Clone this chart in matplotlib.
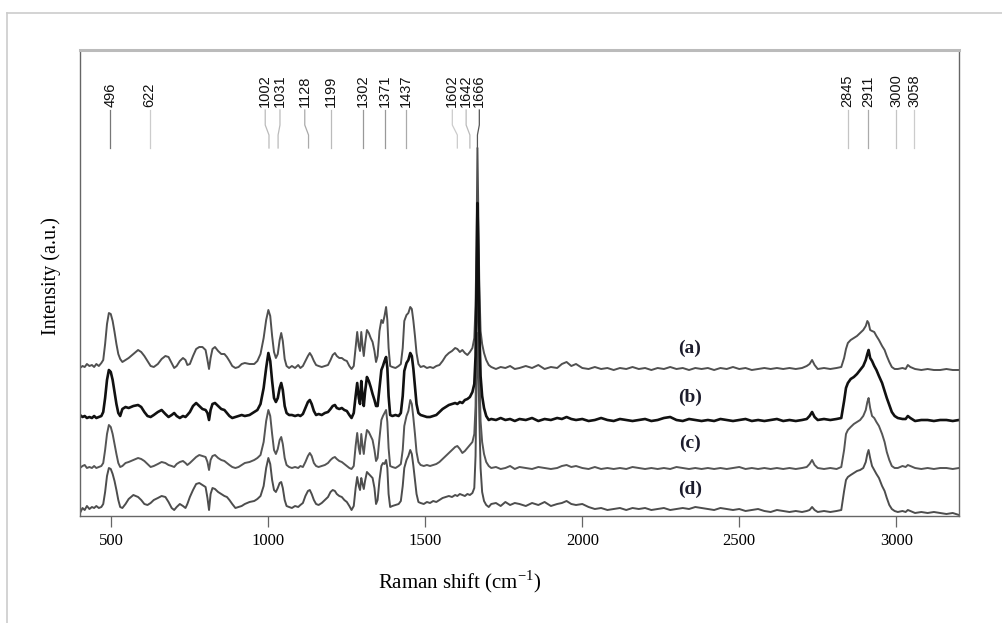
import matplotlib.pyplot as plt
from matplotlib.lines import Line2D

plt.rcParams['mathtext.fontset'] = 'custom'
plt.rcParams['mathtext.rm'] = 'Liberation Serif'

# Raman shift grid (cm-1) shared by the four spectra
raman_shift = [
    400, 408, 415, 422, 430, 438, 445, 452, 460, 468,
    474, 480, 486, 492, 498, 504, 510, 516, 522, 528,
    535, 545, 555, 570, 585, 595, 605, 615, 625, 635,
    648, 660, 672, 682, 692, 700, 708, 718, 728, 736,
    742, 750, 760, 770, 780, 790, 800, 806, 811, 816,
    822, 830, 840, 850, 860, 868, 876, 885, 895, 905,
    915, 925, 940, 955, 965, 975, 985, 993, 1000, 1006,
    1012, 1018, 1024, 1030, 1036, 1041, 1046, 1052, 1058, 1066,
    1075, 1085, 1095, 1102, 1110, 1118, 1126, 1132, 1138, 1145,
    1152, 1160, 1170, 1180, 1190, 1198, 1205, 1212, 1218, 1226,
    1234, 1242, 1250, 1258, 1265, 1272, 1278, 1283, 1288, 1292,
    1296, 1300, 1304, 1308, 1314, 1320, 1326, 1332, 1338, 1343,
    1348, 1354, 1360, 1365, 1370, 1375, 1379, 1383, 1388, 1395,
    1405, 1415, 1422, 1428, 1433, 1440, 1446, 1452, 1457, 1462,
    1467, 1472, 1478, 1485, 1495, 1505, 1515, 1525, 1535, 1545,
    1555, 1565, 1575, 1585, 1595, 1602, 1610, 1618, 1626, 1634,
    1642, 1650, 1656, 1660, 1663, 1666, 1669, 1672, 1676, 1681,
    1687, 1694, 1702, 1710, 1725, 1740, 1755, 1770, 1785, 1800,
    1820, 1840, 1860, 1880, 1900, 1920, 1935, 1950, 1965, 1980,
    2000, 2020, 2040, 2060, 2080, 2100, 2120, 2140, 2160, 2180,
    2200, 2220, 2240, 2260, 2280, 2300, 2320, 2340, 2360, 2380,
    2400, 2420, 2440, 2460, 2480, 2500, 2520, 2540, 2560, 2580,
    2600, 2620, 2640, 2660, 2680, 2700, 2715, 2724, 2732, 2740,
    2750, 2770, 2790, 2810, 2825, 2834, 2840, 2846, 2855, 2865,
    2875, 2885, 2895, 2903, 2908, 2912, 2917, 2923, 2930, 2937,
    2945, 2955, 2963, 2970, 2978, 2986, 2995, 3005, 3020, 3030,
    3037, 3045, 3060, 3080, 3100, 3120, 3140, 3160, 3180, 3200,
]

# stacked intensities (a.u.), top to bottom
spec_a = [
    148, 150, 149, 152, 150, 151, 149, 152, 150, 153,
    156, 172, 192, 203, 202, 195, 184, 172, 162, 157,
    154, 156, 158, 162, 166, 164, 160, 155, 150, 149,
    152, 157, 160, 159, 153, 148, 150, 155, 158, 156,
    151, 152, 160, 167, 169, 169, 166, 156, 147, 158,
    167, 169, 165, 162, 162, 159, 155, 150, 148, 149,
    152, 153, 152, 152, 155, 162, 178, 196, 206, 200,
    180, 164, 158, 162, 176, 183, 175, 157, 150, 148,
    150, 148, 151, 148, 150, 155, 160, 163, 160, 155,
    151, 150, 149, 150, 151, 156, 161, 163, 160, 158,
    158, 156, 155, 150, 147, 150, 168, 184, 170, 165,
    184, 170, 160, 172, 186, 183, 178, 174, 165, 154,
    160, 185, 196, 193, 200, 209, 196, 168, 150, 149,
    148, 150, 152, 168, 195, 201, 203, 209, 207, 195,
    180, 163, 152, 149, 150, 148, 149, 148, 150, 151,
    155, 160, 163, 165, 168, 167, 164, 166, 163, 161,
    164, 168, 178, 210, 270, 368, 300, 230, 185, 172,
    163, 156, 151, 149, 147, 149, 148, 150, 147, 148,
    150, 148, 151, 147, 149, 148, 152, 154, 150, 152,
    148, 147, 149, 147, 148, 146, 148, 147, 149, 147,
    148, 146, 148, 147, 149, 147, 148, 146, 148, 147,
    148, 146, 148, 147, 149, 147, 148, 146, 147, 148,
    147, 148, 147, 148, 147, 148, 150, 152, 156, 151,
    147, 148, 147, 148, 149, 158, 167, 173, 176, 178,
    180, 183, 186, 190, 195, 193, 186, 185, 184, 180,
    176, 170, 166, 160, 154, 149, 147, 147, 148, 147,
    151, 149, 147, 146, 147, 146, 146, 147, 146, 146,
]
spec_b = [
    101, 99, 100, 98, 99, 98, 100, 98, 99, 100,
    104, 118, 136, 146, 144, 136, 124, 112, 103, 100,
    107, 109, 108, 110, 111, 109, 104, 100, 99, 101,
    104, 106, 102, 99, 101, 103, 100, 98, 100, 99,
    101, 104, 110, 113, 110, 107, 106, 103, 96, 106,
    112, 113, 110, 107, 106, 103, 100, 98, 99, 100,
    101, 100, 101, 104, 106, 112, 128, 148, 163, 155,
    135, 118, 114, 118, 128, 133, 126, 110, 103, 101,
    101, 100, 101, 100, 102, 108, 114, 116, 112, 105,
    101, 102, 101, 103, 104, 107, 110, 111, 108, 107,
    108, 106, 105, 101, 98, 103, 120, 133, 118, 112,
    135, 120, 110, 124, 139, 135, 129, 122, 116, 110,
    110, 128, 146, 150, 155, 159, 148, 120, 101, 100,
    101, 100, 103, 120, 145, 153, 156, 163, 160, 147,
    130, 112, 103, 101, 100, 99, 99, 100, 101, 104,
    107, 109, 111, 112, 113, 112, 114, 113, 116, 117,
    119, 124, 132, 160, 230, 313, 260, 190, 140, 120,
    108, 100, 96, 97, 96, 98, 96, 97, 95, 97,
    96, 98, 95, 97, 96, 98, 97, 99, 97, 96,
    97, 95, 96, 98, 96, 95, 97, 96, 95, 96,
    97, 95, 96, 98, 99, 96, 95, 97, 96, 95,
    96, 95, 97, 96, 95, 96, 97, 95, 96, 95,
    96, 97, 95, 96, 95, 96, 97, 100, 104, 99,
    96, 97, 96, 97, 98, 115, 128, 133, 137, 139,
    142, 146, 150, 156, 162, 166, 158, 155, 150, 146,
    140, 133, 125, 118, 111, 104, 100, 98, 97, 97,
    100, 98, 95, 96, 96, 95, 96, 96, 95, 96,
]
spec_c = [
    48, 50, 51, 48, 49, 48, 50, 48, 49, 50,
    53, 66, 82, 91, 89, 82, 72, 62, 53, 49,
    50, 53, 54, 56, 58, 57, 55, 52, 49, 50,
    52, 54, 53, 51, 50, 49, 52, 54, 55, 53,
    51, 53, 56, 59, 61, 60, 59, 54, 46, 56,
    60, 61, 58, 56, 55, 53, 51, 49, 48, 49,
    51, 53, 54, 56, 58, 61, 74, 95, 106, 100,
    82, 66, 62, 67, 76, 79, 72, 58, 51, 49,
    48, 49, 48, 50, 49, 54, 60, 63, 60, 53,
    50, 49, 50, 51, 53, 56, 58, 59, 57, 55,
    54, 52, 50, 48, 47, 50, 70, 83, 68, 62,
    82, 70, 62, 74, 86, 84, 80, 76, 66, 55,
    58, 78, 96, 100, 103, 106, 94, 68, 50, 49,
    48, 50, 52, 66, 90, 100, 105, 116, 112, 98,
    82, 64, 54, 51, 50, 51, 50, 51, 52, 54,
    57, 60, 63, 66, 69, 70, 67, 63, 65, 68,
    71, 74, 82, 110, 180, 251, 210, 150, 95, 74,
    62, 54, 50, 48, 49, 47, 48, 50, 47, 49,
    48, 47, 49, 48, 47, 48, 50, 51, 49, 50,
    48, 47, 49, 47, 48, 47, 48, 47, 49, 48,
    47, 48, 47, 48, 47, 49, 48, 47, 48, 47,
    48, 47, 48, 47, 48, 49, 47, 48, 47, 48,
    47, 48, 47, 48, 47, 48, 49, 52, 56, 51,
    48, 47, 48, 47, 49, 66, 82, 86, 89, 92,
    94, 96, 100, 106, 114, 118, 108, 100, 98, 94,
    90, 82, 74, 64, 56, 50, 48, 48, 50, 49,
    51, 50, 48, 47, 48, 47, 48, 48, 47, 48,
]
spec_d = [
    3, 8, 6, 10, 7, 9, 8, 10, 8, 9,
    12, 24, 40, 48, 47, 42, 35, 26, 16, 9,
    8, 12, 17, 21, 19, 16, 12, 11, 13, 16,
    18, 20, 19, 14, 8, 6, 9, 12, 10, 8,
    12, 19, 26, 32, 33, 31, 29, 18, 6, 22,
    28, 27, 24, 22, 20, 19, 16, 12, 8, 9,
    10, 12, 14, 15, 17, 20, 30, 48, 58, 52,
    36, 26, 24, 28, 33, 34, 28, 16, 10, 9,
    8, 10, 9, 11, 13, 20, 25, 26, 22, 16,
    12, 11, 13, 16, 19, 24, 26, 25, 22, 20,
    19, 16, 14, 10, 6, 10, 28, 39, 30, 26,
    38, 32, 27, 35, 44, 42, 40, 38, 28, 12,
    16, 36, 50, 53, 52, 56, 48, 22, 9, 10,
    11, 12, 15, 30, 48, 56, 60, 66, 62, 50,
    36, 22, 14, 13, 12, 14, 13, 15, 14, 16,
    18, 19, 20, 19, 21, 20, 22, 21, 20, 22,
    21, 23, 28, 60, 130, 183, 150, 100, 48, 24,
    15, 11, 9, 12, 13, 10, 14, 11, 13, 12,
    10, 13, 11, 14, 10, 12, 13, 15, 12, 11,
    12, 9, 7, 8, 6, 7, 8, 6, 8, 7,
    8, 6, 7, 8, 6, 7, 8, 7, 9, 8,
    7, 6, 8, 7, 6, 7, 5, 6, 7, 5,
    4, 6, 5, 4, 5, 4, 5, 6, 9, 6,
    4, 5, 4, 5, 6, 25, 36, 39, 41, 43,
    45, 46, 48, 54, 62, 66, 58, 50, 46, 42,
    38, 30, 25, 18, 11, 7, 5, 4, 5, 4,
    6, 5, 3, 4, 3, 4, 3, 2, 3, 1,
]

series_names = ['(a)', '(b)', '(c)', '(d)']
name_y = [168, 119, 73, 27]

peak_bands = [496, 622, 1002, 1031, 1128, 1199, 1302, 1371, 1437, 1602, 1642, 1666,
              2845, 2911, 3000, 3058]
peak_text_pos = [496, 622, 990, 1037, 1116, 1199, 1302, 1371, 1437, 1586, 1630, 1672,
                 2845, 2911, 3000, 3058]
peak_line_col = ['#777777', '#cccccc', '#bbbbbb', '#bbbbbb', '#aaaaaa', '#bbbbbb', '#999999',
                 '#999999', '#aaaaaa', '#cccccc', '#bbbbbb', '#555555',
                 '#c4c4c4', '#aaaaaa', '#c4c4c4', '#cccccc']

fig = plt.figure(figsize=(10.03, 6.23), dpi=100)
ax = fig.add_axes([80 / 1003, 1 - 516 / 623, 879 / 1003, 466 / 623])

# outer frame of the picture
fig.add_artist(Line2D([7 / 1003, 7 / 1003], [0, 1 - 13 / 623], color='#cccccc', lw=1.2))
fig.add_artist(Line2D([7 / 1003, 1], [1 - 13 / 623, 1 - 13 / 623], color='#cccccc', lw=1.2))

ax.plot(raman_shift, spec_d, color='#4d4d4d', lw=1.4)
ax.plot(raman_shift, spec_c, color='#555555', lw=1.4)
ax.plot(raman_shift, spec_a, color='#505050', lw=1.4)
ax.plot(raman_shift, spec_b, color='#111111', lw=1.9)

for name, y in zip(series_names, name_y):
    ax.text(2343, y, name, ha='center', va='center', fontsize=14, fontweight='bold',
            family='Liberation Serif', color='#1c1c2c')

for band, tpos, col in zip(peak_bands, peak_text_pos, peak_line_col):
    ax.plot([tpos, tpos, band, band], [406, 391, 381, 368], color=col, lw=0.9)
    ax.text(tpos, 409, str(band), rotation=90, ha='center', va='bottom', fontsize=10.5,
            family='Liberation Sans', color='#111111')

ax.set_xlim(400, 3200)
ax.set_ylim(0, 466)
ax.set_xticks([500, 1000, 1500, 2000, 2500, 3000])
ax.set_yticks([])
ax.tick_params(axis='x', direction='out', length=8, width=0.9, color='#666666', pad=4,
               labelsize=12)
for lab in ax.get_xticklabels():
    lab.set_family('Liberation Serif')

for side in ['left', 'right', 'bottom']:
    ax.spines[side].set_color('#666666')
    ax.spines[side].set_linewidth(1.0)
ax.spines['top'].set_color('#bbbbbb')
ax.spines['top'].set_linewidth(2.2)

ax.set_xlabel('Raman shift (cm$^{\\mathregular{-1}}$)', fontsize=15, family='Liberation Serif')
ax.xaxis.set_label_coords(0.432, -0.112)
ax.set_ylabel('Intensity (a.u.)', fontsize=14.5, family='Liberation Serif')
ax.yaxis.set_label_coords(-0.022, 0.515)

fig.savefig('out.png', dpi=100)
